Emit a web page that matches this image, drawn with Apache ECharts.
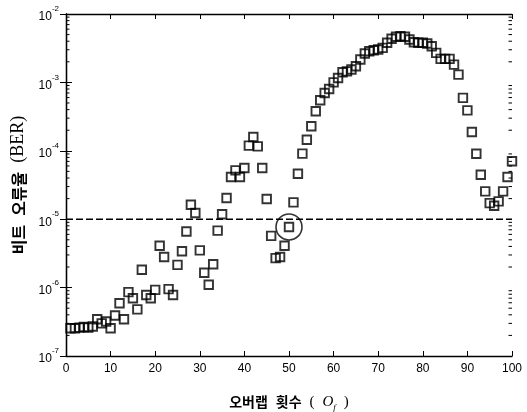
<!DOCTYPE html>
<html>
<head>
<meta charset="utf-8">
<script src="https://cdn.jsdelivr.net/npm/echarts@6/dist/echarts.min.js"></script>
<style>html,body{margin:0;padding:0;background:#fff;}#c{width:527px;height:412px;}</style>
</head>
<body>
<div id="c"></div>
<script>
const overlapCounts = [1,2,3,4,5,6,7,8,9,10,11,12,13,14,15,16,17,18,19,20,
  21,22,23,24,25,26,27,28,29,30,31,32,33,34,35,36,37,38,39,40,
  41,42,43,44,45,46,47,48,49,50,51,52,53,54,55,56,57,58,59,60,
  61,62,63,64,65,66,67,68,69,70,71,72,73,74,75,76,77,78,79,80,
  81,82,83,84,85,86,87,88,89,90,91,92,93,94,95,96,97,98,99,100];
const berValues = [2.55e-7,2.55e-7,2.6e-7,2.65e-7,2.6e-7,2.7e-7,3.45e-7,3.0e-7,3.2e-7,2.55e-7,
  3.9e-7,5.9e-7,3.45e-7,8.6e-7,7.0e-7,4.8e-7,1.82e-6,7.8e-7,7.0e-7,9.25e-7,
  4.1e-6,2.8e-6,9.5e-7,7.8e-7,2.15e-6,3.4e-6,6.6e-6,1.63e-5,1.23e-5,3.5e-6,
  1.65e-6,1.1e-6,2.2e-6,6.8e-6,1.18e-5,2.04e-5,4.13e-5,5.17e-5,4.13e-5,5.6e-5,
  1.19e-4,1.59e-4,1.16e-4,5.6e-5,1.97e-5,5.7e-6,2.7e-6,2.8e-6,4.1e-6,7.7e-6,
  1.76e-5,4.62e-5,9.1e-5,1.45e-4,2.28e-4,3.78e-4,5.47e-4,7.0e-4,8.0e-4,1.0e-3,
  1.16e-3,1.41e-3,1.45e-3,1.54e-3,1.72e-3,2.16e-3,2.64e-3,2.85e-3,2.95e-3,3.02e-3,
  3.2e-3,3.79e-3,4.34e-3,4.64e-3,4.73e-3,4.64e-3,4.23e-3,3.87e-3,3.79e-3,3.79e-3,
  3.7e-3,3.38e-3,2.7e-3,2.21e-3,2.21e-3,2.21e-3,1.82e-3,1.3e-3,5.93e-4,3.9e-4,
  1.88e-4,9.07e-5,4.47e-5,2.55e-5,1.72e-5,1.57e-5,1.82e-5,2.55e-5,4.13e-5,7.04e-5];
const circledX = [50];
const circledBER = [7.7e-6];
const thresholdBER = 1e-5;
const yMin = 1e-7, yMax = 1e-2;
const xMin = 0, xMax = 100, xStep = 10;
const decadeExponents = [-7,-6,-5,-4,-3];
const minorMultipliers = [2,3,4,5,6,7,8,9];

const minorTicks = [];
decadeExponents.forEach(e => minorMultipliers.forEach(m => minorTicks.push(m * Math.pow(10, e))));

const chart = echarts.init(document.getElementById('c'), null, {renderer: 'canvas'});
const axisLineStyle = {color: '#000', width: 1.3};
const option = {
  backgroundColor: '#fff',
  animation: false,
  grid: {left: 66, right: 15, top: 14, bottom: 56, containLabel: false, outerBoundsMode: 'none'},
  xAxis: [{
    type: 'value', min: xMin, max: xMax, interval: xStep, position: 'bottom',
    axisLine: {show: true, lineStyle: axisLineStyle},
    axisTick: {show: true, inside: true, length: 5, lineStyle: {color: '#000', width: 1}},
    axisLabel: {color: '#000', fontSize: 12, fontFamily: 'Liberation Sans', margin: 7},
    splitLine: {show: false},
    name: '{k|오버랩}{g| }{k|횟수}{g| }{p|(}{g| }{o|O}{f|f}{g| }{p|)}',
    nameLocation: 'middle', nameGap: 36,
    nameTextStyle: {
      rich: {
        k: {fontFamily: 'Noto Sans CJK KR', fontWeight: 'bold', fontSize: 14, color: '#000', lineHeight: 20},
        g: {fontSize: 14, lineHeight: 20, width: 8},
        p: {fontFamily: 'Liberation Serif', fontSize: 15, color: '#000', lineHeight: 20},
        o: {fontFamily: 'Liberation Serif', fontStyle: 'italic', fontSize: 15, color: '#000', lineHeight: 20},
        f: {fontFamily: 'Liberation Serif', fontStyle: 'italic', fontSize: 9, color: '#000', lineHeight: 14, verticalAlign: 'bottom'}
      }
    }
  }, {
    type: 'value', min: xMin, max: xMax, interval: xStep, position: 'top',
    axisLine: {show: true, lineStyle: axisLineStyle},
    axisTick: {show: true, inside: true, length: 5, lineStyle: {color: '#000', width: 1}},
    axisLabel: {show: false}, splitLine: {show: false}
  }],
  yAxis: [{
    type: 'log', logBase: 10, min: yMin, max: yMax, position: 'left',
    axisLine: {show: true, lineStyle: axisLineStyle},
    axisTick: {show: true, inside: true, length: 6, lineStyle: {color: '#000', width: 1}},
    axisLabel: {
      color: '#000', margin: 7,
      formatter: v => '{b|10}{s|' + Math.round(Math.log10(v)) + '}',
      rich: {
        b: {fontFamily: 'Liberation Sans', fontSize: 12, color: '#000', lineHeight: 18, verticalAlign: 'bottom'},
        s: {fontFamily: 'Liberation Sans', fontSize: 8, color: '#000', lineHeight: 10, verticalAlign: 'top'}
      }
    },
    splitLine: {show: false},
    name: '{k|비트}{g| }{k|오류율}{g| }{e|(BER)}',
    nameLocation: 'middle', nameGap: 30, nameRotate: 90,
    nameTextStyle: {
      rich: {
        k: {fontFamily: 'Noto Sans CJK KR', fontWeight: 'bold', fontSize: 16, color: '#000', lineHeight: 22},
        g: {fontSize: 16, lineHeight: 22, width: 9},
        e: {fontFamily: 'Liberation Serif', fontSize: 18, color: '#000', lineHeight: 22}
      }
    }
  }, {
    type: 'log', logBase: 10, min: yMin, max: yMax, position: 'right',
    axisLine: {show: true, lineStyle: axisLineStyle},
    axisTick: {show: true, inside: true, length: 6, lineStyle: {color: '#000', width: 1}},
    axisLabel: {show: false}, splitLine: {show: false}
  }],
  series: [{
    type: 'line', xAxisIndex: 0, yAxisIndex: 0, silent: true,
    symbol: 'none',
    lineStyle: {color: '#000', width: 1.4, type: [7, 3]},
    data: [[xMin, thresholdBER], [xMax, thresholdBER]],
    z: 2
  }, {
    type: 'scatter', xAxisIndex: 0, yAxisIndex: 0, clip: false,
    symbol: 'rect', symbolSize: 8.5,
    itemStyle: {color: 'rgba(0,0,0,0)', borderColor: '#000', borderWidth: 1.9},
    data: overlapCounts.map((x, i) => [x, berValues[i]]),
    z: 3
  }, {
    type: 'scatter', xAxisIndex: 0, yAxisIndex: 0, clip: false,
    symbol: 'circle', symbolSize: 26,
    itemStyle: {color: 'rgba(0,0,0,0)', borderColor: '#000', borderWidth: 1.6},
    data: circledX.map((x, i) => [x, circledBER[i]]),
    z: 4
  }, {
    type: 'custom', xAxisIndex: 0, yAxisIndex: 0, silent: true,
    data: minorTicks.map(v => [xMin, v]),
    renderItem: (params, api) => {
      const y = api.coord([xMin, api.value(1)])[1];
      const cs = params.coordSys;
      const st = {stroke: '#000', lineWidth: 1};
      return {type: 'group', children: [
        {type: 'line', shape: {x1: cs.x, y1: y, x2: cs.x + 3.5, y2: y}, style: st},
        {type: 'line', shape: {x1: cs.x + cs.width, y1: y, x2: cs.x + cs.width - 3.5, y2: y}, style: st}
      ]};
    },
    z: 2
  }]
};
chart.setOption(option);
</script>
</body>
</html>
